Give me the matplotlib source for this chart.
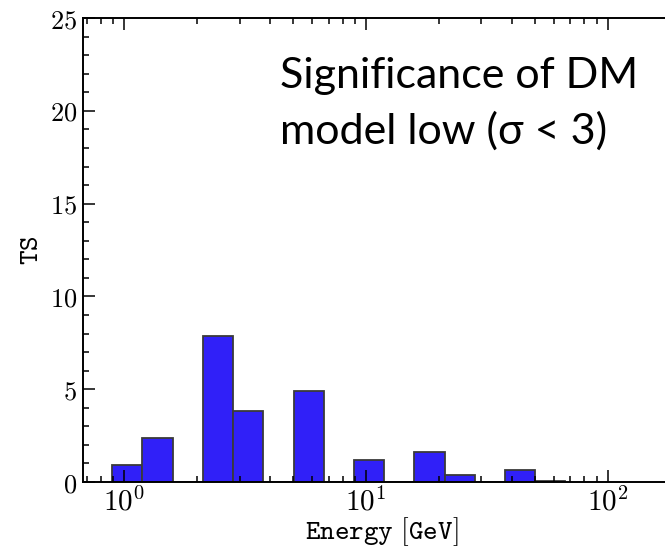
import numpy as np
import matplotlib
matplotlib.use("Agg")
import matplotlib.pyplot as plt
from matplotlib.ticker import FixedLocator, LogLocator, MultipleLocator, FuncFormatter, NullFormatter

plt.rcParams['mathtext.fontset'] = 'cm'

# log-spaced energy bins (GeV), 8 per decade
bin_edges = [0.891, 1.189, 1.585, 2.113, 2.818, 3.758, 5.012, 6.683,
             8.913, 11.885, 15.85, 21.13, 28.18, 37.58, 50.12, 66.83]
ts_values = [0.92, 2.37, 0.0, 7.87, 3.81, 0.0, 4.9, 0.0,
             1.17, 0.0, 1.6, 0.4, 0.0, 0.65, 0.08]
y_ticks = [0, 5, 10, 15, 20, 25]
x_ticks = [1, 10, 100]
note = "Significance of DM\nmodel low (\u03c3 < 3)"

edges = np.array(bin_edges)
widths = np.diff(edges)

fig = plt.figure(figsize=(6.65, 5.5), dpi=100)
ax = fig.add_axes([0.1244, 0.1236, 0.899, 0.8436])

ax.bar(edges[:-1], ts_values, width=widths, align='edge',
       color='#3020f8', edgecolor='#3a3a3a', linewidth=1.3)

ax.set_xscale('log')
ax.set_xlim(0.673, 200)
ax.set_ylim(0, 25)

ax.xaxis.set_major_locator(FixedLocator(x_ticks))
ax.xaxis.set_minor_locator(LogLocator(base=10, subs=np.arange(2, 10)))
ax.xaxis.set_minor_formatter(NullFormatter())
ax.xaxis.set_major_formatter(FuncFormatter(lambda v, p: r'$10^{%d}$' % round(np.log10(v))))

ax.yaxis.set_major_locator(FixedLocator(y_ticks))
ax.yaxis.set_minor_locator(MultipleLocator(1))
ax.yaxis.set_major_formatter(FuncFormatter(lambda v, p: r'$%d$' % v))

ax.tick_params(which='both', direction='in', top=True, right=False, width=1.1)
ax.tick_params(which='major', length=8.5, labelsize=19, pad=4)
ax.tick_params(axis='x', which='major', labelsize=21)
ax.tick_params(which='minor', length=4.3)

for s in ['left', 'bottom', 'top']:
    ax.spines[s].set_linewidth(1.4)
ax.spines['right'].set_visible(False)

ax.set_xlabel(r'$\mathtt{Energy\ [GeV]}$', fontsize=20, labelpad=-1)
ax.set_ylabel(r'$\mathtt{TS}$', fontsize=20, labelpad=4)

fig.text(280 / 665, 1 - 57 / 550, note, fontsize=31, family='Lato',
         ha='left', va='top', linespacing=1.5)

fig.savefig("out.png", dpi=100)
